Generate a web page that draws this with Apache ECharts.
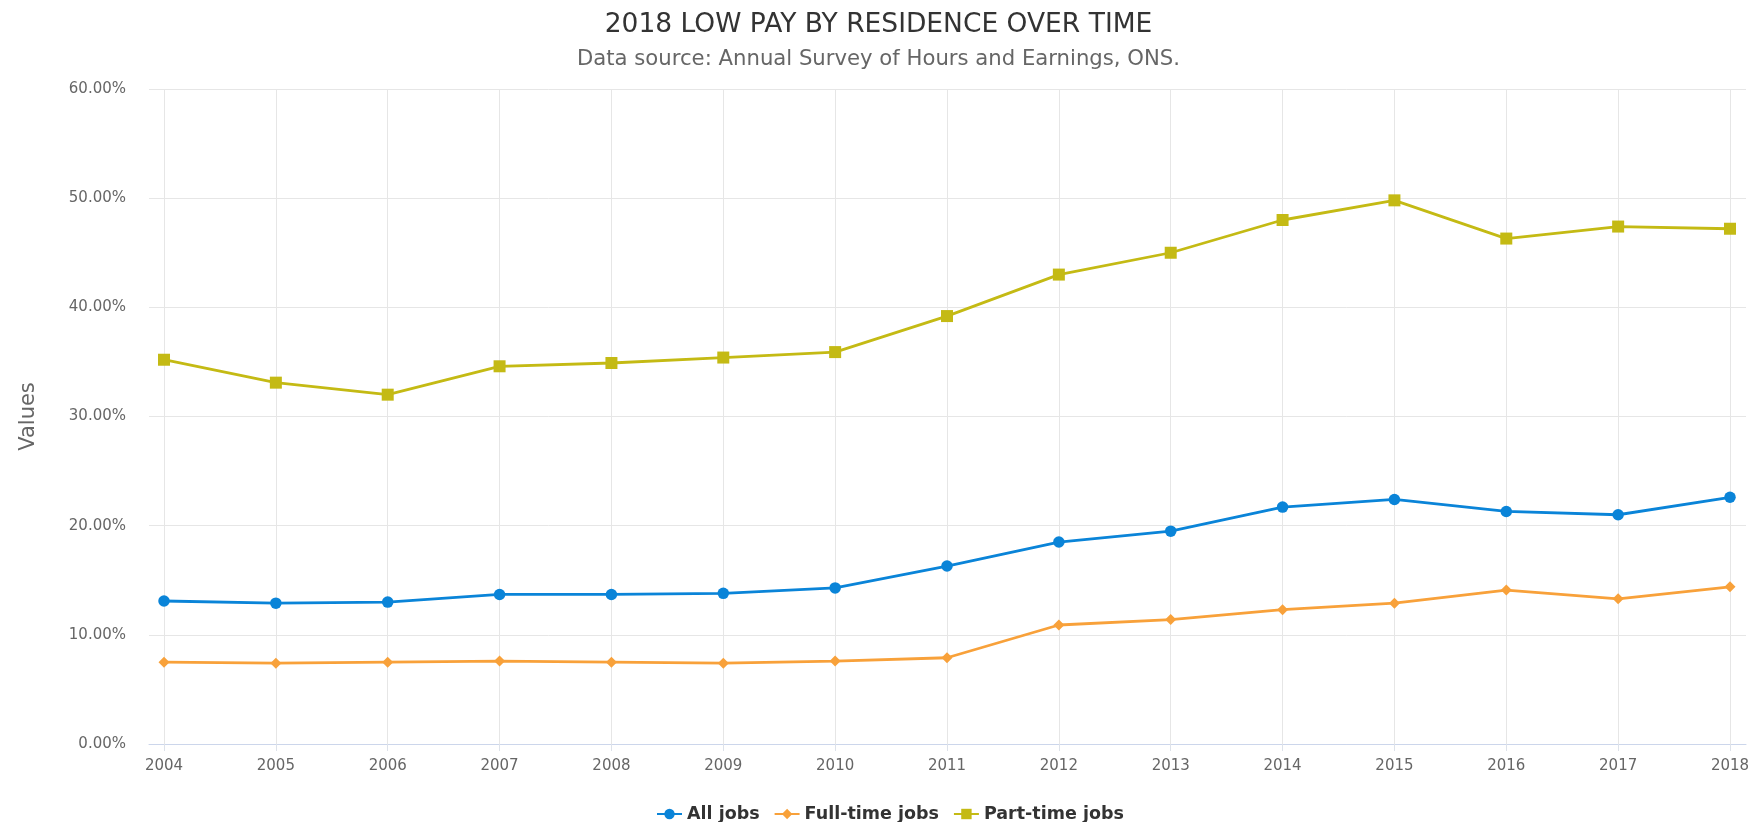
<!DOCTYPE html>
<html>
<head>
<meta charset="utf-8">
<title>2018 Low pay by residence over time</title>
<script src="https://cdn.jsdelivr.net/npm/echarts@6/dist/echarts.min.js"></script>
<style>
    html, body { margin: 0; padding: 0; background: #fff; }
    #main { width: 1757px; height: 822px; }
</style>
</head>
<body>
<div id="main"></div>
<script>
// 图表数据
var years = ['2004', '2005', '2006', '2007', '2008', '2009', '2010', '2011',
    '2012', '2013', '2014', '2015', '2016', '2017', '2018'];
var allJobs = [13.1, 12.9, 13.0, 13.7, 13.7, 13.8, 14.3, 16.3, 18.5, 19.5, 21.7, 22.4, 21.3, 21.0, 22.6];
var fullTimeJobs = [7.5, 7.4, 7.5, 7.6, 7.5, 7.4, 7.6, 7.9, 10.9, 11.4, 12.3, 12.9, 14.1, 13.3, 14.4];
var partTimeJobs = [35.2, 33.1, 32.0, 34.6, 34.9, 35.4, 35.9, 39.2, 43.0, 45.0, 48.0, 49.8, 46.3, 47.4, 47.2];
var seriesNames = ['All jobs', 'Full-time jobs', 'Part-time jobs'];

var fontName = 'DejaVu Sans';
var yMin = 0, yMax = 60, yStep = 10;

myCharts1();

// echarts图表绘制
function myCharts1() {
    var myChart = echarts.init(document.getElementById('main'), null, { renderer: 'canvas' });
    var option = {
        animation: false,
        backgroundColor: '#ffffff',
        textStyle: { fontFamily: fontName },
        title: [
            {
                text: '2018 LOW PAY BY RESIDENCE OVER TIME',
                left: 'center',
                top: 7,
                textStyle: { fontSize: 26.5, fontWeight: 'normal', color: '#333333', fontFamily: fontName }
            },
            {
                text: 'Data source: Annual Survey of Hours and Earnings, ONS.',
                left: 'center',
                top: 44,
                textStyle: { fontSize: 21.2, fontWeight: 'normal', color: '#666666', fontFamily: fontName }
            }
        ],
        legend: {
            data: seriesNames,
            left: 651,
            top: 800,
            itemWidth: 25,
            itemHeight: 13,
            itemGap: 14,
            textStyle: { fontSize: 17.5, fontWeight: 'bold', color: '#333333', fontFamily: fontName }
        },
        // grid 0: 横向网格线 + y轴, grid 1: 数据
        grid: [
            { left: 149, right: 11, top: 89, bottom: 78 },
            { left: 164, right: 27, top: 89, bottom: 78 }
        ],
        xAxis: [
            {
                gridIndex: 0,
                type: 'category',
                data: years,
                boundaryGap: false,
                axisLine: { show: true, lineStyle: { color: '#ccd6eb', width: 1 } },
                axisTick: { show: false },
                axisLabel: { show: false },
                splitLine: { show: false }
            },
            {
                gridIndex: 1,
                type: 'category',
                data: years,
                boundaryGap: false,
                axisLine: { show: false },
                axisTick: { show: true, length: 7, lineStyle: { color: '#dde2ea' } },
                axisLabel: { show: true, margin: 15, fontSize: 15, color: '#666666', fontFamily: fontName },
                splitLine: { show: true, lineStyle: { color: '#e6e6e6', width: 1 } }
            }
        ],
        yAxis: [
            {
                gridIndex: 0,
                type: 'value',
                min: yMin,
                max: yMax,
                interval: yStep,
                name: 'Values',
                nameLocation: 'middle',
                nameRotate: 90,
                nameGap: 110,
                nameTextStyle: { fontSize: 21, color: '#666666', fontFamily: fontName },
                axisLine: { show: false },
                axisTick: { show: false },
                axisLabel: {
                    margin: 23,
                    fontSize: 15,
                    color: '#666666',
                    fontFamily: fontName,
                    formatter: function (v) { return v.toFixed(2) + '%'; }
                },
                splitLine: { show: true, lineStyle: { color: '#e6e6e6', width: 1 } }
            },
            {
                gridIndex: 1,
                type: 'value',
                min: yMin,
                max: yMax,
                interval: yStep,
                show: false,
                splitLine: { show: false }
            }
        ],
        series: [
            {
                name: seriesNames[0],
                type: 'line',
                xAxisIndex: 1,
                yAxisIndex: 1,
                data: allJobs,
                symbol: 'circle',
                symbolSize: 11.5,
                lineStyle: { width: 2.8, color: '#0a84d8' },
                itemStyle: { color: '#0a84d8' }
            },
            {
                name: seriesNames[1],
                type: 'line',
                xAxisIndex: 1,
                yAxisIndex: 1,
                data: fullTimeJobs,
                symbol: 'diamond',
                symbolSize: 11,
                lineStyle: { width: 2.8, color: '#f8a13a' },
                itemStyle: { color: '#f8a13a' }
            },
            {
                name: seriesNames[2],
                type: 'line',
                xAxisIndex: 1,
                yAxisIndex: 1,
                data: partTimeJobs,
                symbol: 'rect',
                symbolSize: 12,
                lineStyle: { width: 2.8, color: '#c4ba14' },
                itemStyle: { color: '#c4ba14' }
            }
        ]
    };
    myChart.setOption(option);
}
</script>
</body>
</html>
